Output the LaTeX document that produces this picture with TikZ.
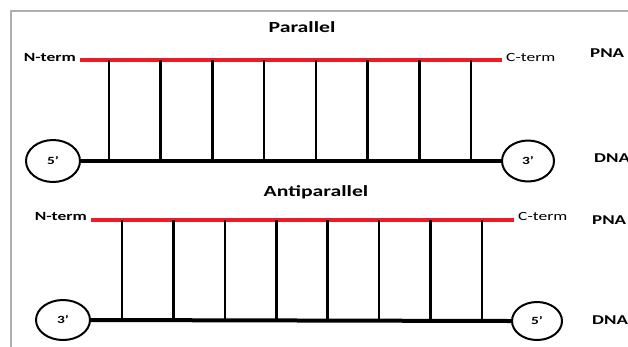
\documentclass[tikz,border=0pt]{standalone}
\usepackage{fontspec}
\usepackage{graphicx}
\setmainfont{Carlito}
\usetikzlibrary{shapes.geometric}
\definecolor{pnared}{RGB}{237,28,36}
\definecolor{framegray}{RGB}{175,175,175}
\tikzset{
  title/.style={font=\bfseries\fontsize{15.5}{18}\selectfont, inner sep=0pt},
  nlab/.style={font=\bfseries\fontsize{12.5}{15}\selectfont, inner sep=0pt},
  clab/.style={font=\fontsize{12.5}{15}\selectfont, inner sep=0pt},
  side/.style={font=\bfseries\fontsize{13.5}{16}\selectfont, inner sep=0pt, anchor=west},
  endcap/.style={draw, line width=2pt, ellipse, inner sep=0pt, font=\bfseries\fontsize{11}{13}\selectfont},
  pnaline/.style={pnared, line width=4pt},
  dnaline/.style={black, line width=4pt},
  rung/.style={black, line width=2.6pt},
  frameline/.style={framegray, line width=1.5pt}
}
\newcommand{\wide}[1]{\scalebox{1.4}[1]{#1}}
\begin{document}
\begin{tikzpicture}[x=1pt,y=-1pt]
\useasboundingbox (0,0) rectangle (628,346);
\clip (0,0) rectangle (628,346);
% frame
\coordinate (fr1) at (640,11);
\coordinate (fr2) at (11,11);
\coordinate (fr3) at (11,360);
\draw[frameline] (fr1) -- (fr2) -- (fr3);

% ---------- Parallel ----------
\node[title] (t1) at (302,27) {\wide{Parallel}};
\node[nlab, anchor=east] (n1) at (76,57) {\wide{N-term}};
\node[clab, anchor=west] (c1) at (506,57) {\wide{C-term}};
\node[side] (p1) at (590,53) {\wide{PNA}};
\node[side] (d1) at (594,158) {\wide{DNA}};
\coordinate (r1a) at (80,60);
\coordinate (r1b) at (502,60);
\draw[pnaline] (r1a) -- (r1b);
\node[endcap, minimum width=54pt, minimum height=42pt] (e1a) at (53,161) {\wide{5’}};
\node[endcap, minimum width=52pt, minimum height=41pt] (e1b) at (528,161) {\wide{3’}};
\draw[dnaline] (e1a.east) -- (e1b.west);
\foreach \i in {0,...,7}{
  \coordinate (u1\i) at ({109+51.7*\i},60);
  \coordinate (l1\i) at ({109+51.7*\i},160);
  \draw[rung] (u1\i) -- (l1\i);
}

% ---------- Antiparallel ----------
\node[title] (t2) at (316,192) {\wide{Antiparallel}};
\node[nlab, anchor=east] (n2) at (87,216) {\wide{N-term}};
\node[clab, anchor=west] (c2) at (518,216) {\wide{C-term}};
\node[side] (p2) at (592,220) {\wide{PNA}};
\node[side] (d2) at (592,320) {\wide{DNA}};
\coordinate (r2a) at (91,220);
\coordinate (r2b) at (514,220);
\draw[pnaline] (r2a) -- (r2b);
\node[endcap, minimum width=54pt, minimum height=40pt] (e2a) at (63,320) {\wide{3’}};
\node[endcap, minimum width=50pt, minimum height=38pt] (e2b) at (537,321) {\wide{5’}};
\draw[dnaline] (e2a.east) -- (e2b.west);
\foreach \i in {0,...,7}{
  \coordinate (u2\i) at ({122+51.4*\i},220);
  \coordinate (l2\i) at ({122+51.4*\i},320);
  \draw[rung] (u2\i) -- (l2\i);
}
\end{tikzpicture}
\end{document}
